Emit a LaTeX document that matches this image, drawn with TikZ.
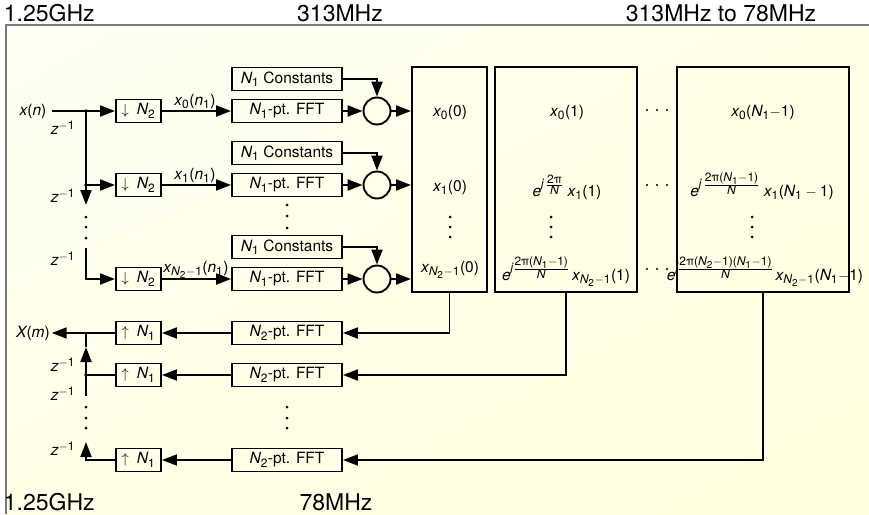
\documentclass[tikz,border=0pt]{standalone}
\usepackage{amsmath}
\usepackage{fontspec}
\setmainfont{TeX Gyre Heros}
\usetikzlibrary{arrows.meta,shadings}
\definecolor{bgA}{HTML}{FEFEF2}
\definecolor{bgB}{HTML}{FFFFE8}
\definecolor{bgC}{HTML}{FFFFDE}
\definecolor{framegray}{HTML}{7A7A7A}
\DeclareMathSizes{15.5}{15.5}{12}{10}
\newcommand{\fbody}{\fontsize{15.5}{18}\selectfont}
\newcommand{\ffreq}{\fontsize{23}{26}\selectfont}
\newcommand{\mI}[1]{\text{\itshape #1}}
\newcommand{\mR}[1]{\text{\upshape #1}}
\newcommand{\efrac}[2]{\frac{\scriptstyle #1}{\scriptstyle #2}}
\begin{document}
\begin{tikzpicture}[x=1pt,y=-1pt,line width=1.9pt,
  >={Triangle[length=15pt,width=11pt]},
  blk/.style={draw,inner sep=0pt,minimum height=23pt,font=\fbody},
  sbox/.style={blk,minimum width=45pt},
  fbox/.style={blk,minimum width=110pt},
  mix/.style={draw,circle,minimum size=27pt,inner sep=0pt},
  big/.style={draw,minimum height=225pt,inner sep=0pt},
  lbl/.style={font=\fbody,inner sep=0pt},
  fq/.style={font=\ffreq,inner sep=0pt}]
\useasboundingbox (0,0) rectangle (869,514);
\shade[upper left=bgA,upper right=bgB,lower left=bgB,lower right=bgC] (6,25) rectangle (869,514);
\draw[framegray,line width=1.2pt] (6,514) -- (6,25) -- (869,25);

% frequency labels
\node[fq,anchor=west] (fa) at (3,13) {1.25GHz};
\node[fq] (fb) at (340,13) {313MHz};
\node[fq] (fc) at (721,13) {313MHz to 78MHz};
\node[fq,anchor=west] (fd) at (3,502) {1.25GHz};
\node[fq] (fe) at (336,502) {78MHz};

% big boxes
\node[big,minimum width=75pt] (b1) at (449.5,179.5) {};
\node[big,minimum width=142pt] (b2) at (566,179.5) {};
\node[big,minimum width=172pt] (b3) at (763,179.5) {};

% input side
\node[lbl] (xn) at (33,111) {$\mI{x}\mR{(}\mI{n}\mR{)}$};
\coordinate (j1) at (86,111);
\coordinate (j2) at (86,185);
\coordinate (a1) at (86,205);
\coordinate (d1) at (86,248);

\node[sbox] (dn1) at (138.5,111) {$\downarrow\;\mI{N}_{\mR{2}}$};
\node[sbox] (dn2) at (138.5,185) {$\downarrow\;\mI{N}_{\mR{2}}$};
\node[sbox] (dn3) at (138.5,279) {$\downarrow\;\mI{N}_{\mR{2}}$};

\node[fbox] (ff1) at (287,111) {$\mI{N}_{\mR{1}}$-pt. FFT};
\node[fbox] (ff2) at (287,185) {$\mI{N}_{\mR{1}}$-pt. FFT};
\node[fbox] (ff3) at (287,279) {$\mI{N}_{\mR{1}}$-pt. FFT};

\node[fbox] (kc1) at (287,79) {$\mI{N}_{\mR{1}}$ Constants};
\node[fbox] (kc2) at (287,153) {$\mI{N}_{\mR{1}}$ Constants};
\node[fbox] (kc3) at (287,247) {$\mI{N}_{\mR{1}}$ Constants};

\node[mix] (m1) at (377,111) {};
\node[mix] (m2) at (377,185) {};
\node[mix] (m3) at (377,279) {};

\node[lbl,anchor=base] (l1) at (195,105) {$\mI{x}_{\mR{0}}\mR{(}\mI{n}_{\mR{1}}\mR{)}$};
\node[lbl,anchor=base] (l2) at (195,179) {$\mI{x}_{\mR{1}}\mR{(}\mI{n}_{\mR{1}}\mR{)}$};
\node[lbl,anchor=base] (l3) at (196,272) {$\mI{x}_{\mI{N}_{\mR{2}}{-}\mR{1}}\mR{(}\mI{n}_{\mR{1}}\mR{)}$};

\node[lbl] (z1) at (63,128) {$\mI{z}^{-\mR{1}}$};
\node[lbl] (z2) at (63,196) {$\mI{z}^{-\mR{1}}$};
\node[lbl] (z3) at (63,259) {$\mI{z}^{-\mR{1}}$};

\draw[->] ([xshift=5pt]j1 -| xn.east) -- (dn1.west);
\draw[->] (j1) -- (a1);
\draw[->] (j2) -- (dn2.west);
\draw[->] (d1) |- (dn3.west);
\fill (j1) circle (1.8pt);
\fill (j2) circle (1.8pt);
\foreach \y in {217,227,238} \fill (86,\y) circle (1.5pt);

\foreach \r in {1,2,3}{
  \draw[->] (dn\r.east) -- (ff\r.west);
  \draw[->] (ff\r.east) -- (m\r.west);
  \draw[->] (m\r.east) -- (m\r.east -| b1.west);
  \draw[->] (kc\r.east) -| (m\r.north);
}
\foreach \y in {205,216,228} \fill (287,\y) circle (1.5pt);

% contents of big boxes
\node[lbl,anchor=base] (t10) at (450,116) {$\mI{x}_{\mR{0}}\mR{(0)}$};
\node[lbl,anchor=base] (t11) at (450,191) {$\mI{x}_{\mR{1}}\mR{(0)}$};
\node[lbl,anchor=base] (t12) at (450,272) {$\mI{x}_{\mI{N}_{\mR{2}}{-}\mR{1}}\mR{(0)}$};
\node[lbl,anchor=base] (t20) at (567,116) {$\mI{x}_{\mR{0}}\mR{(1)}$};
\node[lbl,anchor=base] (t21) at (567,196) {$\mI{e}^{\mI{j}\,\efrac{\mR{2π}}{\mI{N}}}\;\mI{x}_{\mR{1}}\mR{(1)}$};
\node[lbl,anchor=base] (t22) at (566,280) {$\mI{e}^{\mI{j}\efrac{\mR{2π(}\mI{N}_{\mR{1}}{-}\mR{1)}}{\mI{N}}}\,\mI{x}_{\mI{N}_{\mR{2}}{-}\mR{1}}\mR{(1)}$};
\node[lbl,anchor=base] (t30) at (763,116) {$\mI{x}_{\mR{0}}\mR{(}\mI{N}_{\mR{1}}{-}\mR{1)}$};
\node[lbl,anchor=base] (t31) at (762,196) {$\mI{e}^{\mI{j}\,\efrac{\mR{2π(}\mI{N}_{\mR{1}}{-}\mR{1)}}{\mI{N}}}\;\mI{x}_{\mR{1}}\mR{(}\mI{N}_{\mR{1}}-\mR{1)}$};
\node[lbl,anchor=base] (t32) at (765,280) {$\mI{e}^{\mI{j}\efrac{\mR{2π(}\mI{N}_{\mR{2}}{-}\mR{1)(}\mI{N}_{\mR{1}}{-}\mR{1)}}{\mI{N}}}\,\mI{x}_{\mI{N}_{\mR{2}}{-}\mR{1}}\mR{(}\mI{N}_{\mR{1}}{-}\mR{1)}$};
\foreach \x in {450,551,752}{\foreach \y in {217,227,237} \fill (\x,\y) circle (1.5pt);}
\foreach \y in {110,185,269}{\foreach \x in {647,657,667} \fill (\x,\y) circle (1.2pt);}

% output side
\node[lbl] (xm) at (33,333) {$\mI{X}\mR{(}\mI{m}\mR{)}$};
\node[sbox] (up1) at (138.5,333) {$\uparrow\;\mI{N}_{\mR{1}}$};
\node[sbox] (up2) at (138.5,375) {$\uparrow\;\mI{N}_{\mR{1}}$};
\node[sbox] (up3) at (138.5,460) {$\uparrow\;\mI{N}_{\mR{1}}$};
\node[fbox] (g1) at (287,333) {$\mI{N}_{\mR{2}}$-pt. FFT};
\node[fbox] (g2) at (287,375) {$\mI{N}_{\mR{2}}$-pt. FFT};
\node[fbox] (g3) at (287,460) {$\mI{N}_{\mR{2}}$-pt. FFT};
\node[lbl] (z4) at (63,365) {$\mI{z}^{-\mR{1}}$};
\node[lbl] (z5) at (63,394) {$\mI{z}^{-\mR{1}}$};
\node[lbl] (z6) at (63,449) {$\mI{z}^{-\mR{1}}$};

\coordinate (k1) at (86,333);
\coordinate (k2) at (86,375);
\coordinate (p1) at (86,347);
\coordinate (q1) at (86,396);
\coordinate (p3) at (86,442);

\draw[->] (b1.south) |- (g1.east);
\draw[->] (b2.south) |- (g2.east);
\draw[->] (b3.south) |- (g3.east);
\foreach \r in {1,2,3} \draw[->] (g\r.west) -- (up\r.east);
\draw[->] (up1.west) -- ([xshift=1pt]k1 -| xm.east);
\draw (up2.west) -- (k2) -- (q1);
\draw[->] (k2) -- (p1);
\draw (p1) -- (k1);
\draw[->] (up3.west) -| (p3);
\fill (k2) circle (1.8pt);
\foreach \y in {407,418,428} \fill (86,\y) circle (1.5pt);
\foreach \y in {407,418,428} \fill (287,\y) circle (1.5pt);
\end{tikzpicture}
\end{document}
